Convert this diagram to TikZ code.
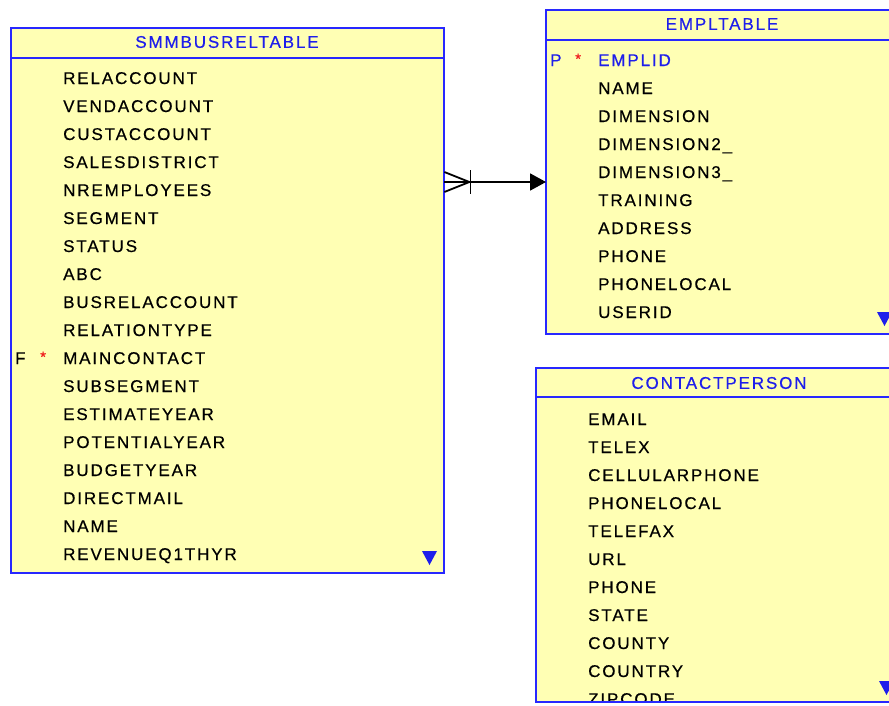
\documentclass[tikz,border=0pt]{standalone}
\usepackage{fontspec}
\newfontfamily\erfont[LetterSpace=11,FakeBold=0.5]{Liberation Sans}
\usetikzlibrary{arrows.meta}
\definecolor{tblfill}{RGB}{255,255,180}
\definecolor{tblline}{RGB}{40,40,255}
\definecolor{tbltitle}{RGB}{30,30,235}
\definecolor{keystar}{RGB}{240,30,30}
\tikzset{
  x=1pt, y=-1pt,
  tablebox/.style={rectangle, fill=tblfill, inner sep=0pt, anchor=north west},
  tableline/.style={draw=tblline, line width=2pt},
  tabletitle/.style={font=\erfont\fontsize{17}{17}\selectfont, text=tbltitle, inner sep=0pt},
  col/.style={font=\erfont\fontsize{17}{17}\selectfont, text=black, inner sep=0pt, anchor=base west},
  keycol/.style={col, text=tbltitle},
  flag/.style={font=\erfont\fontsize{17}{17}\selectfont, inner sep=0pt, anchor=base west},
  star/.style={font=\erfont\fontsize{15}{15}\selectfont, text=keystar, inner sep=0pt, anchor=base west},
  more/.style={fill=tbltitle, draw=none},
  rel/.style={draw=black, line width=1.8pt},
}
\begin{document}
\begin{tikzpicture}
\useasboundingbox (0,0) rectangle (889,705);
\clip (0,0) rectangle (889,705);
\fill[white] (0,0) rectangle (889,705);

% ---------------- SMMBUSRELTABLE ----------------
\node[tablebox, minimum width=433pt, minimum height=545pt] (smm) at (11,28) {};
\node[tabletitle] (smmtitle) at (227,42) {SMMBUSRELTABLE};
\begin{scope}
  \clip (11,58) rectangle (444,573);
  \foreach \name [count=\i from 0] in {RELACCOUNT,VENDACCOUNT,CUSTACCOUNT,SALESDISTRICT,NREMPLOYEES,SEGMENT,STATUS,ABC,BUSRELACCOUNT,RELATIONTYPE,MAINCONTACT,SUBSEGMENT,ESTIMATEYEAR,POTENTIALYEAR,BUDGETYEAR,DIRECTMAIL,NAME,REVENUEQ1THYR}
    \node[col] (smmrow\i) at (63,84+28*\i) {\name};
  \node[flag] (smmflag) at (15,364) {F};
  \node[star] (smmstar) at (40,362) {*};
\end{scope}
\draw[tableline] (smm.north west) rectangle (smm.south east);
\draw[tableline] (11,58) -- (444,58);
\fill[more] (422,551) -- (437,551) -- (429.5,565) -- cycle;

% ---------------- EMPLTABLE ----------------
\node[tablebox, minimum width=353pt, minimum height=324pt] (empl) at (546,10) {};
\node[tabletitle] (empltitle) at (722,24) {EMPLTABLE};
\begin{scope}
  \clip (546,40) rectangle (899,334);
  \node[keycol] (emplrow0) at (598,66) {EMPLID};
  \foreach \name [count=\i from 1] in {NAME,DIMENSION,DIMENSION2\_,DIMENSION3\_,TRAINING,ADDRESS,PHONE,PHONELOCAL,USERID}
    \node[col] (emplrow\i) at (598,66+28*\i) {\name};
  \node[flag, text=tbltitle] (emplflag) at (550,66) {P};
  \node[star] (emplstar) at (575,64) {*};
\end{scope}
\draw[tableline] (empl.north west) rectangle (empl.south east);
\draw[tableline] (546,40) -- (899,40);
\fill[more] (877,312) -- (892,312) -- (884.5,326) -- cycle;

% ---------------- CONTACTPERSON ----------------
\node[tablebox, minimum width=366pt, minimum height=334pt] (cp) at (536,368) {};
\node[tabletitle] (cptitle) at (719,383) {CONTACTPERSON};
\begin{scope}
  \clip (536,397) rectangle (902,702);
  \foreach \name [count=\i from 0] in {EMAIL,TELEX,CELLULARPHONE,PHONELOCAL,TELEFAX,URL,PHONE,STATE,COUNTY,COUNTRY,ZIPCODE}
    \node[col] (cprow\i) at (588,425+28*\i) {\name};
\end{scope}
\draw[tableline] (cp.north west) rectangle (cp.south east);
\draw[tableline] (536,397) -- (902,397);
\fill[more] (879,681) -- (894,681) -- (886.5,695) -- cycle;

% ---------------- relationship SMMBUSRELTABLE -> EMPLTABLE ----------------
\coordinate (rely) at (0,182);
\coordinate (relfrom) at (smm.east |- rely);
\coordinate (relto) at (empl.west |- rely);
\draw[rel, -{Triangle[length=16pt,width=17pt]}] (relfrom) -- (relto);
\draw[rel] (relfrom) ++(0,-10) -- ++(25,10) -- ++(-25,10);
\draw[rel] (relfrom) ++(26,-12) -- ++(0,24);
\end{tikzpicture}
\end{document}
